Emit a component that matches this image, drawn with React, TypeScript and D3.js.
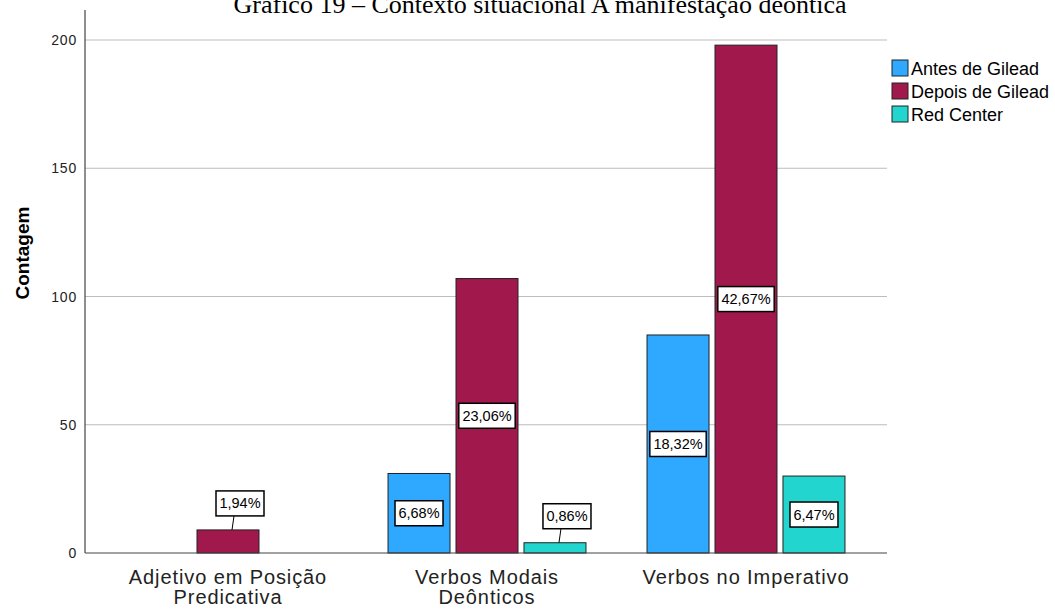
import React from "react";
import * as d3 from "d3";

const categories = ["Adjetivo em Posição|Predicativa", "Verbos Modais|Deônticos", "Verbos no Imperativo"];
const series = ["Antes de Gilead", "Depois de Gilead", "Red Center"];
const antes = [0, 31, 85];
const depois = [9, 107, 198];
const redCenter = [0, 4, 30];
const antesPct = ["", "6,68%", "18,32%"];
const depoisPct = ["1,94%", "23,06%", "42,67%"];
const redPct = ["", "0,86%", "6,47%"];
const yTicks = [0, 50, 100, 150, 200];
const colors = ["#2FA9FF", "#A1194C", "#22D5CF"];

export default function App() {
  const W = 1055, H = 610;
  const left = 85, right = 887, top = 10, bottom = 553;
  const y = d3.scaleLinear().domain([0, 211.7]).range([bottom, top]);
  const x0 = d3.scaleBand<number>().domain([0, 1, 2]).range([98.5, 875.5]).paddingInner(0).paddingOuter(0);
  const x1 = d3.scaleBand<number>().domain([0, 1, 2]).range([0, x0.bandwidth()]).paddingInner(0.088).paddingOuter(0.449);
  const values = [antes, depois, redCenter];
  const pcts = [antesPct, depoisPct, redPct];
  const font = "Arial, 'Liberation Sans', sans-serif";

  const bars: any[] = [];
  const labels: any[] = [];
  categories.forEach((c, ci) => {
    series.forEach((s, si) => {
      const v = values[si][ci];
      if (v <= 0) return;
      const bx = x0(ci)! + x1(si)!;
      const bw = x1.bandwidth();
      const by = y(v);
      bars.push(
        <rect key={`b${ci}${si}`} x={bx} y={by} width={bw} height={bottom - by} fill={colors[si]} stroke="#222" strokeWidth={1} />
      );
      const t = pcts[si][ci];
      if (!t) return;
      const cx = bx + bw / 2;
      const tw = t.length * 8.4 + 6;
      const bh = 25;
      if (v >= 20) {
        const cy = y(v / 2);
        labels.push(
          <g key={`l${ci}${si}`}>
            <rect x={cx - tw / 2} y={cy - bh / 2} width={tw} height={bh} fill="#fff" stroke="#000" strokeWidth={1.5} />
            <text x={cx} y={cy + 5} textAnchor="middle" fontSize={14.5} fontFamily={font} fill="#000">{t}</text>
          </g>
        );
      } else {
        const boxCx = cx + 12;
        const boxBottom = by - 14;
        labels.push(
          <g key={`l${ci}${si}`}>
            <line x1={cx + 4} y1={by} x2={cx + 6} y2={boxBottom} stroke="#000" strokeWidth={1} />
            <rect x={boxCx - tw / 2} y={boxBottom - bh} width={tw} height={bh} fill="#fff" stroke="#000" strokeWidth={1.5} />
            <text x={boxCx} y={boxBottom - bh / 2 + 5} textAnchor="middle" fontSize={14.5} fontFamily={font} fill="#000">{t}</text>
          </g>
        );
      }
    });
  });

  return (
    <svg width={W} height={H} style={{ position: "absolute", left: 0, top: 0, background: "#fff" }}>
      <text x={540} y={13} textAnchor="middle" fontSize={26} fontFamily="'Liberation Serif', 'Times New Roman', serif" fill="#000">
        Gráfico 19 – Contexto situacional A manifestação deôntica
      </text>
      {yTicks.filter((t) => t > 0).map((t) => (
        <line key={`g${t}`} x1={left} x2={right} y1={y(t)} y2={y(t)} stroke="#BDBDBD" strokeWidth={1} />
      ))}
      {yTicks.map((t) => (
        <text key={`t${t}`} x={77} y={y(t) + 5} textAnchor="end" fontSize={14} letterSpacing={0.8} fontFamily={font} fill="#222">{t}</text>
      ))}
      {bars}
      <line x1={left} x2={left} y1={top} y2={bottom} stroke="#444" strokeWidth={1.2} />
      <line x1={left} x2={right} y1={bottom} y2={bottom} stroke="#444" strokeWidth={1.2} />
      {labels}
      {categories.map((c, ci) => {
        const lines = c.split("|");
        const cx = x0(ci)! + x0.bandwidth() / 2;
        return (
          <text key={`c${ci}`} x={cx} textAnchor="middle" fontSize={20} letterSpacing={0.9} fontFamily={font} fill="#222">
            {lines.map((l, li) => (
              <tspan key={li} x={cx} y={584 + li * 20}>{l}</tspan>
            ))}
          </text>
        );
      })}
      <text transform={`translate(29, 253) rotate(-90)`} textAnchor="middle" fontSize={19} fontWeight="bold" fontFamily={font} fill="#000">
        Contagem
      </text>
      {series.map((s, si) => (
        <g key={`lg${si}`}>
          <rect x={892} y={60 + si * 23} width={16} height={16} fill={colors[si]} stroke="#222" strokeWidth={1} />
          <text x={911} y={75 + si * 23} fontSize={18} fontFamily={font} fill="#000">{s}</text>
        </g>
      ))}
    </svg>
  );
}
